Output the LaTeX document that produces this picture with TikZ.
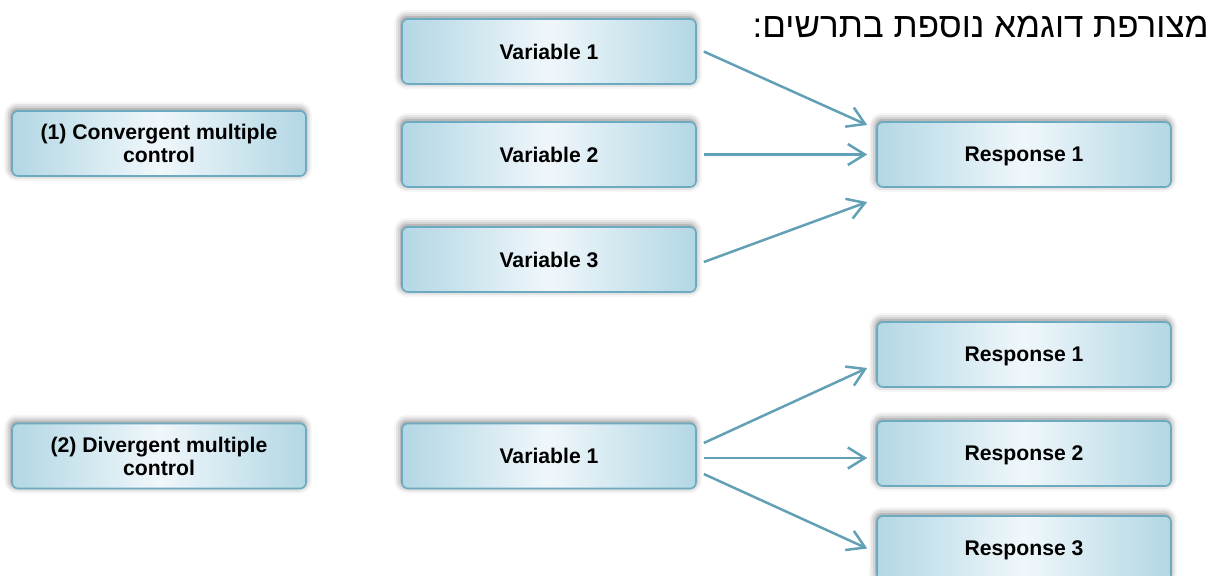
\documentclass[tikz,border=0pt]{standalone}
\usepackage{fontspec}
\setmainfont{Liberation Sans}
\newfontfamily\hebfont[Script=Hebrew]{Liberation Sans}
\TeXXeTstate=1
\usepackage{xcolor}
\usetikzlibrary{arrows.meta,calc,shadows.blur}
\definecolor{boxedge}{HTML}{6DA9BF}
\definecolor{boxside}{HTML}{B2D7E4}
\definecolor{boxmid}{HTML}{F0F7FB}
\definecolor{arrowblue}{HTML}{62A0B6}
\tikzset{
  px/.style={x=0.5pt, y=-0.5pt},
  d box/.style={draw=boxedge, line width=0.8pt, rounded corners=3pt, align=center,
    minimum width=147pt, minimum height=32.5pt, inner sep=1pt, text depth=0pt,
    font=\fontsize{10.6}{11.5}\selectfont\bfseries,
    left color=boxside, right color=boxside, middle color=boxmid,
    blur shadow={shadow xshift=-0.5pt, shadow yshift=1pt, shadow blur radius=3.5pt, shadow opacity=55}},
  d arr/.style={-{Straight Barb[length=8.5pt, width=10.5pt]}, line width=1.25pt, draw=arrowblue},
  d note/.style={font=\hebfont\fontsize{17.5}{20}\selectfont, inner sep=0pt},
}

\begin{document}
\begin{tikzpicture}[px]
\useasboundingbox (0,0) rectangle (1214,575);
\clip (0,0) rectangle (1214,575);
% heading
\node[d note, anchor=east] (hdr) at (1209,27) {\beginR מצורפת דוגמא נוספת בתרשים:\endR};
% (1) convergent
\node[d box] (k1) at (159,143.5) {(1) Convergent multiple\\control};
\node[d box] (va) at (549,51.5) {Variable 1};
\node[d box] (vb) at (549,154.5) {Variable 2};
\node[d box] (vc) at (549,259.5) {Variable 3};
\node[d box] (ra) at (1024,154.5) {Response 1};
\draw[d arr] ($(va.east)+(7,0)$) -- ($(ra.west)+(-9,-29.5)$);
\draw[d arr] ($(vb.east)+(7,0)$) -- ($(ra.west)+(-9,0)$);
\draw[d arr] ($(vc.east)+(7,2.5)$) -- ($(ra.west)+(-9,47.5)$);
% (2) divergent
\node[d box] (k2) at (159,456) {(2) Divergent multiple\\control};
\node[d box] (vd) at (549,456) {Variable 1};
\node[d box] (rb) at (1024,354.5) {Response 1};
\node[d box] (rc) at (1024,453.5) {Response 2};
\node[d box] (rd) at (1024,548.5) {Response 3};
\draw[d arr] ($(vd.east)+(7,-13)$) -- ($(rb.west)+(-9,13.5)$);
\draw[d arr] ($(vd.east)+(7,2)$) -- ($(rc.west)+(-9,4.5)$);
\draw[d arr] ($(vd.east)+(7,18)$) -- ($(rd.west)+(-9,0)$);
\end{tikzpicture}
\end{document}
